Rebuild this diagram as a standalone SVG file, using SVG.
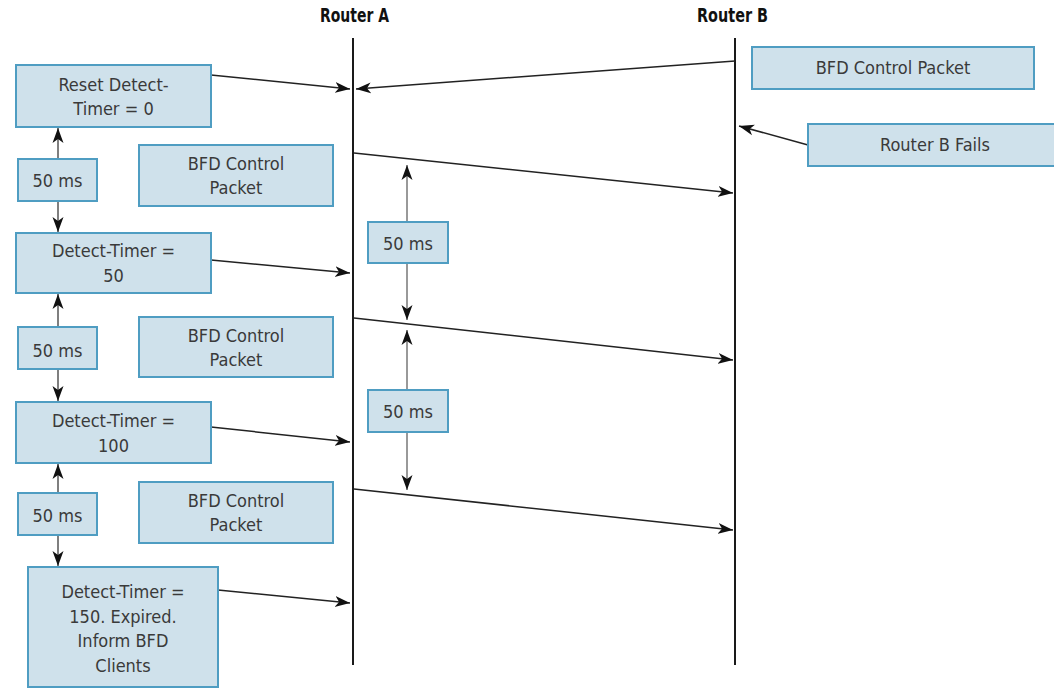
<svg xmlns="http://www.w3.org/2000/svg" width="1054" height="689" viewBox="0 0 1054 689">
<defs>
<style>
.box{fill:#cfe1eb;stroke:#4f9dc2;stroke-width:2}
.t{font-family:"DejaVu Sans Condensed","Liberation Sans",sans-serif;font-size:18px;fill:#3a3a3a;text-anchor:middle}
.title{font-family:"DejaVu Sans Condensed","Liberation Sans",sans-serif;font-size:19px;font-weight:bold;fill:#111;text-anchor:middle}
.life{stroke:#1a1a1a;stroke-width:2;fill:none}
.msg{stroke:#222;stroke-width:1.5;fill:none;marker-end:url(#ah)}
.tick{stroke:#555;stroke-width:1.5;fill:none;marker-end:url(#ah)}
.tick2{stroke:#999;stroke-width:2;fill:none;marker-end:url(#ah)}
</style>
<marker id="ah" markerUnits="userSpaceOnUse" markerWidth="16" markerHeight="12" refX="15" refY="6" orient="auto">
<path d="M0,0.5 L15,6 L0,11.5 L4,6 z" fill="#111"/>
</marker>
</defs>
<rect width="1054" height="689" fill="#ffffff"/>

<g id="routerA">
<text class="title" x="354.5" y="22" textLength="69" lengthAdjust="spacingAndGlyphs">Router A</text>
<line class="life" x1="353" y1="38" x2="353" y2="665"/>
</g>
<g id="routerB">
<text class="title" x="732.5" y="22" textLength="71" lengthAdjust="spacingAndGlyphs">Router B</text>
<line class="life" x1="735" y1="38" x2="735" y2="665"/>
</g>

<g id="connectors">
<line class="msg" x1="211" y1="75" x2="350" y2="89"/>
<line class="msg" x1="735" y1="61" x2="356" y2="89"/>
<line class="msg" x1="808" y1="145" x2="739" y2="126"/>
<line class="msg" x1="354" y1="153" x2="733" y2="193"/>
<line class="msg" x1="211" y1="260" x2="350" y2="273"/>
<line class="msg" x1="354" y1="318" x2="733" y2="360"/>
<line class="msg" x1="211" y1="427" x2="350" y2="442"/>
<line class="msg" x1="354" y1="489" x2="733" y2="530"/>
<line class="msg" x1="218" y1="590" x2="350" y2="603"/>

<line class="tick" x1="58" y1="159" x2="58" y2="128"/>
<line class="tick" x1="58" y1="201" x2="58" y2="232"/>
<line class="tick" x1="58" y1="327" x2="58" y2="294"/>
<line class="tick" x1="58" y1="369" x2="58" y2="401"/>
<line class="tick" x1="58" y1="493" x2="58" y2="464"/>
<line class="tick" x1="58" y1="535" x2="58" y2="566"/>

<line class="tick2" x1="407" y1="222" x2="407" y2="165"/>
<line class="tick2" x1="407" y1="263" x2="407" y2="320"/>
<line class="tick2" x1="407" y1="390" x2="407" y2="330"/>
<line class="tick2" x1="407" y1="432" x2="407" y2="490"/>
</g>

<g id="reset">
<rect class="box" x="16" y="65" width="195" height="62"/>
<text class="t" x="113.5" y="91">Reset Detect-</text>
<text class="t" x="113.5" y="115">Timer = 0</text>
</g>
<g id="ms1">
<rect class="box" x="18" y="159" width="79" height="42"/>
<text class="t" x="57.5" y="187">50 ms</text>
</g>
<g id="bfd1">
<rect class="box" x="139" y="145" width="194" height="61"/>
<text class="t" x="236" y="170">BFD Control</text>
<text class="t" x="236" y="194">Packet</text>
</g>
<g id="dt50">
<rect class="box" x="16" y="233" width="195" height="60"/>
<text class="t" x="113.5" y="257">Detect-Timer =</text>
<text class="t" x="113.5" y="282">50</text>
</g>
<g id="ms2">
<rect class="box" x="18" y="327" width="79" height="42"/>
<text class="t" x="57.5" y="357">50 ms</text>
</g>
<g id="bfd2">
<rect class="box" x="139" y="317" width="194" height="60"/>
<text class="t" x="236" y="342">BFD Control</text>
<text class="t" x="236" y="366">Packet</text>
</g>
<g id="dt100">
<rect class="box" x="16" y="402" width="195" height="61"/>
<text class="t" x="113.5" y="427">Detect-Timer =</text>
<text class="t" x="113.5" y="452">100</text>
</g>
<g id="ms3">
<rect class="box" x="18" y="493" width="79" height="42"/>
<text class="t" x="57.5" y="522">50 ms</text>
</g>
<g id="bfd3">
<rect class="box" x="139" y="482" width="194" height="61"/>
<text class="t" x="236" y="507">BFD Control</text>
<text class="t" x="236" y="531">Packet</text>
</g>
<g id="dt150">
<rect class="box" x="28" y="567" width="190" height="120"/>
<text class="t" x="123" y="598">Detect-Timer =</text>
<text class="t" x="123" y="623">150. Expired.</text>
<text class="t" x="123" y="647">Inform BFD</text>
<text class="t" x="123" y="672">Clients</text>
</g>
<g id="midms1">
<rect class="box" x="368" y="222" width="80" height="41"/>
<text class="t" x="408" y="250">50 ms</text>
</g>
<g id="midms2">
<rect class="box" x="368" y="390" width="80" height="42"/>
<text class="t" x="408" y="418">50 ms</text>
</g>
<g id="bfdB">
<rect class="box" x="752" y="47" width="282" height="42"/>
<text class="t" x="893" y="74">BFD Control Packet</text>
</g>
<g id="bfails">
<rect class="box" x="808" y="124" width="254" height="42"/>
<text class="t" x="935" y="151">Router B Fails</text>
</g>
</svg>
